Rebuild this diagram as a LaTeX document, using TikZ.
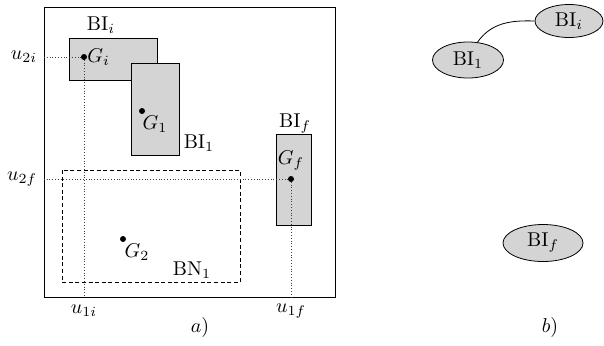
\documentclass[tikz,border=0pt]{standalone}
\usetikzlibrary{positioning,shapes.geometric}
\definecolor{boxgray}{RGB}{212,212,212}
\tikzset{
  box/.style={draw, fill=boxgray, line width=0.5pt},
  guide/.style={densely dotted, line width=0.4pt, black!75},
  zone/.style={draw, dash pattern=on 2pt off 1.3pt, line width=0.45pt},
  centre/.style={circle, fill, inner sep=0pt, minimum size=3pt},
  cell/.style={ellipse, draw, fill=boxgray, minimum width=35pt, minimum height=17pt, inner sep=1pt},
}

\begin{document}
\begin{tikzpicture}[x=0.5pt, y=-0.5pt]
  \useasboundingbox (0,0) rectangle (604,345);

  % a) plan
  \draw [line width=0.5pt] (44,7) rectangle (335,297);
  \coordinate (fl) at (44,0);
  \coordinate (fb) at (0,297);

  \draw [box] (69,38) rectangle (157,80);
  \draw [box] (131,63) rectangle (179,155);
  \draw [box] (276,134) rectangle (311,225);
  \draw [zone] (62,170) rectangle (240,282);

  \coordinate (gi) at (84,57);
  \coordinate (g1) at (142,111);
  \coordinate (gf) at (291,179);
  \coordinate (g2) at (123,239);

  \draw [guide] (gi) -- (gi -| fl);
  \draw [guide] (gi) -- (gi |- fb);
  \draw [guide] (gf) -- (gf -| fl);
  \draw [guide] (gf) -- (gf |- fb);

  \node [centre] at (gi) {};
  \node [centre] at (g1) {};
  \node [centre] at (gf) {};
  \node [centre] at (g2) {};

  \node (lgi) [right=1pt of gi, inner sep=0.5pt] {$G_i$};
  \node (lg1) at (155,124) {$G_1$};
  \node (lgf) at (291,161) {$G_f$};
  \node (lg2) at (137,252) {$G_2$};

  \node (lbii) at (101,25) {BI$_i$};
  \node (lbi1) at (199,143) {BI$_1$};
  \node (lbif) at (295,124) {BI$_f$};
  \node (lbn1) at (192,270) {BN$_1$};

  \node (u2i) [left] at (44,57) {$u_{2i}$};
  \node (u2f) [left] at (44,179) {$u_{2f}$};
  \node (u1i) at (84,311) {$u_{1i}$};
  \node (u1f) at (291,311) {$u_{1f}$};
  \node (capa) at (200,327) {$a)$};

  % b) graph
  \node [cell, minimum width=34pt, minimum height=16.5pt] (bii) at (569,21) {BI$_i$};
  \node [cell, minimum width=35.5pt, minimum height=18pt] (bi1) at (468,60) {BI$_1$};
  \node [cell, minimum width=40pt, minimum height=18.5pt] (bif) at (543,243) {BI$_f$};
  \draw (bi1.62) to[out=55, in=178] (bii.west);
  \node (capb) at (550,327) {$b)$};

\end{tikzpicture}
\end{document}
